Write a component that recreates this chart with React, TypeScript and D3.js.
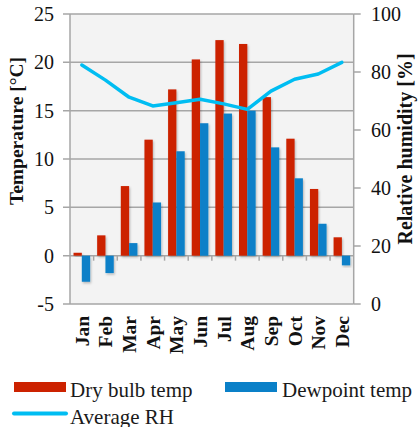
import React from "react";
import * as d3 from "d3";

// Monthly climate normals
const months = ["Jan", "Feb", "Mar", "Apr", "May", "Jun", "Jul", "Aug", "Sep", "Oct", "Nov", "Dec"];
const dryBulb = [0.3, 2.1, 7.2, 12.0, 17.2, 20.3, 22.3, 21.9, 16.4, 12.1, 6.9, 1.9];
const dewpoint = [-2.7, -1.8, 1.3, 5.5, 10.8, 13.7, 14.7, 15.0, 11.2, 8.0, 3.3, -1.0];
const avgRH = [82.4, 77.2, 71.3, 68.3, 69.4, 70.6, 69.0, 67.1, 73.4, 77.5, 79.3, 83.3];
const tempTicks = [-5, 0, 5, 10, 15, 20, 25];
const rhTicks = [0, 20, 40, 60, 80, 100];
const seriesKeys = ["dry", "dew"];

const W = 420;
const H = 427;
const left = 70;
const right = 353.7;
const top = 14;
const bottom = 304;

const RED = "#cc2200";
const BLUE = "#0a80c8";
const CYAN = "#00bdf2";
const GRID = "#a6a6a6";
const FONT = '"Liberation Serif", "DejaVu Serif", serif';

export default function App() {
  const x = d3.scaleBand<string>().domain(months).range([left, right]).padding(0);
  const bw = x.bandwidth();
  const xs = d3.scaleBand<string>().domain(seriesKeys).range([0, bw]).paddingInner(0).paddingOuter(0.424);
  const yT = d3.scaleLinear().domain([-5, 25]).range([bottom, top]);
  const yR = d3.scaleLinear().domain([0, 100]).range([bottom, top]);
  const cx = (m: string) => (x(m) as number) + bw / 2;

  const line = d3
    .line<number>()
    .x((_, i) => cx(months[i]))
    .y((d) => yR(d));

  const bar = (m: string, key: string, v: number, color: string) => {
    const y0 = yT(0);
    const y1 = yT(v);
    return (
      <rect
        key={m + key}
        x={(x(m) as number) + (xs(key) as number)}
        y={Math.min(y0, y1)}
        width={xs.bandwidth()}
        height={Math.abs(y1 - y0)}
        fill={color}
        filter="url(#shadow)"
      />
    );
  };

  const txt = { fontFamily: FONT };

  return (
    <svg
      width={W}
      height={H}
      style={{ position: "absolute", left: 0, top: 0, background: "#fff", fontFamily: FONT }}
    >
      <defs>
        <filter id="shadow" x="-50%" y="-20%" width="200%" height="140%">
          <feDropShadow dx="1" dy="1.5" stdDeviation="1.2" floodColor="#000" floodOpacity="0.25" />
        </filter>
      </defs>

      {/* plot background */}
      <rect x={left} y={top} width={right - left} height={bottom - top} fill="#f3f3f3" />

      {/* horizontal gridlines with left ticks */}
      {tempTicks.map((t) => (
        <line key={"g" + t} x1={left - 7} x2={right} y1={yT(t)} y2={yT(t)} stroke={GRID} strokeWidth={1.5} />
      ))}

      {/* category ticks on the zero line */}
      {months.slice(1).map((m) => (
        <line
          key={"ct" + m}
          x1={x(m) as number}
          x2={x(m) as number}
          y1={yT(0)}
          y2={yT(0) + 5}
          stroke={GRID}
          strokeWidth={1.5}
        />
      ))}

      {/* axis lines */}
      <line x1={left} x2={left} y1={top} y2={bottom} stroke={GRID} strokeWidth={1.5} />
      <line x1={right} x2={right} y1={top} y2={bottom} stroke={GRID} strokeWidth={1.5} />
      {rhTicks.map((t) => (
        <line key={"rt" + t} x1={right} x2={right + 7} y1={yR(t)} y2={yR(t)} stroke={GRID} strokeWidth={1.5} />
      ))}

      {/* bars */}
      {months.map((m, i) => bar(m, "dry", dryBulb[i], RED))}
      {months.map((m, i) => bar(m, "dew", dewpoint[i], BLUE))}

      {/* relative humidity line */}
      <path d={line(avgRH) as string} fill="none" stroke={CYAN} strokeWidth={3.5} strokeLinejoin="round" strokeLinecap="round" />

      {/* left tick labels */}
      {tempTicks.map((t) => (
        <text key={"lt" + t} style={txt} x={54} y={yT(t)} dy="0.35em" textAnchor="end" fontSize={20} fill="#111">
          {t}
        </text>
      ))}

      {/* right tick labels */}
      {rhTicks.map((t) => (
        <text key={"rl" + t} style={txt} x={371} y={yR(t)} dy="0.35em" textAnchor="start" fontSize={20} fill="#111">
          {t}
        </text>
      ))}

      {/* month labels */}
      {months.map((m) => (
        <text
          key={"m" + m}
          style={txt}
          transform={`translate(${cx(m) + 7},316) rotate(-90)`}
          textAnchor="end"
          fontSize={19.5}
          fontWeight="bold"
          fill="#111"
        >
          {m}
        </text>
      ))}

      {/* axis titles */}
      <text style={txt} transform="translate(23,131) rotate(-90)" textAnchor="middle" fontSize={19.5} fontWeight="bold" fill="#111">
        Temperature [°C]
      </text>
      <text style={txt} transform="translate(411.5,149) rotate(-90)" textAnchor="middle" fontSize={20} fontWeight="bold" fill="#111">
        Relative humidity [%]
      </text>

      {/* legend */}
      <rect x={14} y={382} width={52} height={10} fill={RED} />
      <text style={txt} x={70} y={397} fontSize={21} fill="#1a1a1a">Dry bulb temp</text>
      <rect x={225} y={382} width={52} height={10} fill={BLUE} />
      <text style={txt} x={282} y={397} fontSize={21} fill="#1a1a1a">Dewpoint temp</text>
      <line x1={14} x2={66} y1={413.5} y2={413.5} stroke={CYAN} strokeWidth={4} strokeLinecap="round" />
      <text style={txt} x={70} y={423.5} fontSize={21} fill="#1a1a1a">Average RH</text>
    </svg>
  );
}
